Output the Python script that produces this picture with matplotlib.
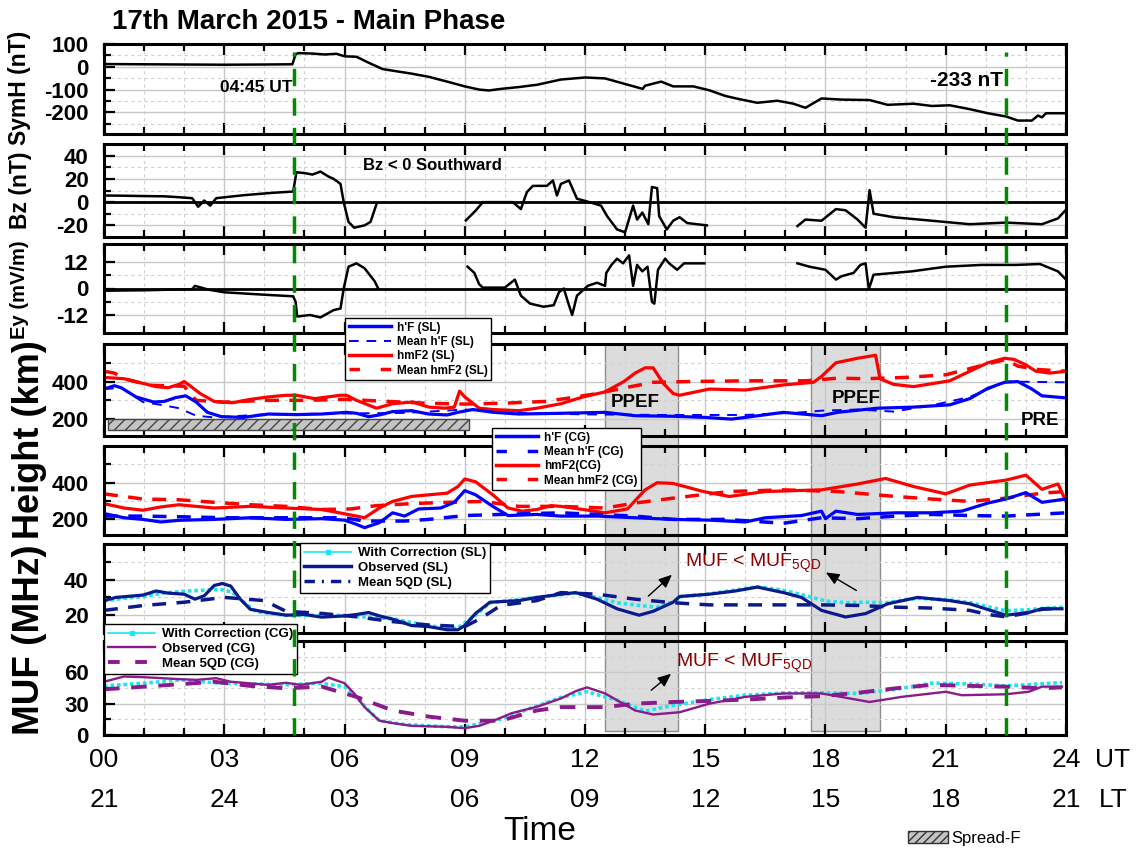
import numpy as np
import matplotlib
matplotlib.use("Agg")
import matplotlib.pyplot as plt
import matplotlib.transforms as mtransforms
from matplotlib.patches import Rectangle, Patch
from matplotlib.lines import Line2D
from matplotlib.ticker import MultipleLocator, FixedLocator

plt.rcParams['font.family'] = ['Liberation Sans', 'DejaVu Sans']
plt.rcParams['font.weight'] = 'bold'
plt.rcParams['hatch.linewidth'] = 1.0
plt.rcParams['axes.unicode_minus'] = False
nan = np.nan
COND = ['Liberation Sans Narrow', 'Liberation Sans', 'DejaVu Sans']

# ---------------- data (UT hours) ----------------
t_symh = [0, 1, 2, 3, 4, 4.7, 4.78, 4.85, 5.2, 5.5, 5.8, 6.0, 6.3, 6.6, 6.95, 7.2, 7.67, 8.1, 8.56, 9.0,
          9.36, 9.6, 9.9, 10.35, 10.8, 11.4, 12.0, 12.5, 13.07, 13.44, 13.5, 13.9, 14.2, 14.7, 15.1, 15.5,
          15.85, 16.3, 16.8, 17.2, 17.5, 17.9, 18.4, 19.1, 19.55, 20.2, 20.65, 21.1, 21.6, 22.05, 22.5,
          22.8, 23.15, 23.3, 23.4, 23.5, 24]
symh = [12, 11, 10, 9, 10, 11, 55, 60, 58, 54, 57, 46, 44, 18, -10, -17, -30, -44, -65, -86,
        -100, -104, -97, -89, -79, -56, -47, -51, -79, -97, -83, -65, -86, -86, -103, -128,
        -142, -158, -149, -162, -180, -139, -144, -146, -167, -162, -172, -169, -186, -204, -218,
        -236, -236, -214, -222, -204, -204]

t_bz = [0, 0.5, 1.0, 1.5, 1.75, 2.2, 2.35, 2.5, 2.65, 2.8, 3.5, 4.2, 4.72, 4.8, 5.0, 5.2, 5.4, 5.6, 5.73,
        5.9, 5.98, 6.1, 6.24, 6.5, 6.65, 6.8, 6.85, 9.03, 9.28, 9.45, 9.8, 10.2, 10.4, 10.55, 10.7, 11.05,
        11.2, 11.3, 11.4, 11.6, 11.8, 12.05, 12.4, 12.55, 12.8, 13.0, 13.2, 13.3, 13.43, 13.58, 13.67,
        13.8, 13.85, 14.04, 14.2, 14.36, 14.55, 15.04, 15.1, 17.3, 17.5, 17.9, 18.26, 18.5, 18.8, 19.0,
        19.1, 19.2, 19.7, 20.65, 21.6, 22.5, 23.4, 23.8, 24]
bz = [5.7, 5.5, 5.2, 5, 4.5, 3.4, -4, 1.4, -3, 3.4, 6, 8, 9.1, 25.7, 25, 23.7, 26.3, 22, 20,
      15.7, 0, -17, -22, -20, -17, -1.4, nan, -15.7, -7, 0, 0, 0, -6, 8.6, 14, 14,
      18.6, 5.7, 15.7, 18.6, 2.9, 0.6, -3, -12, -23.5, -26, -3, -15, -9, -19, 13,
      12, -12, -23.5, -16, -13, -18, -20, nan, -20.6, -15, -16, -6, -7, -15, -22,
      10.3, -10, -13, -16, -19, -17.6, -19, -14, -6.5]

t_ey = [0, 1, 2.2, 2.27, 2.6, 3.0, 4.0, 4.72, 4.78, 4.82, 5.14, 5.4, 5.73, 5.9, 5.98, 6.1, 6.3, 6.5, 6.75,
        6.83, 6.9, 9.07, 9.24, 9.36, 9.45, 10.0, 10.25, 10.4, 10.63, 10.97, 11.22, 11.35, 11.47, 11.6,
        11.68, 11.8, 12.07, 12.3, 12.5, 12.53, 12.66, 12.8, 12.95, 13.1, 13.2, 13.3, 13.43, 13.56, 13.67,
        13.73, 13.82, 14.0, 14.1, 14.3, 14.47, 14.98, 15.05, 17.3, 17.6, 18.0, 18.26, 18.4, 18.7, 18.87,
        19.0, 19.08, 19.2, 20.15, 21.0, 21.9, 22.75, 23.35, 23.8, 24]
ey = [-1, -0.8, -0.3, 1.2, -0.5, -1.7, -2.8, -3.5, -6, -12.6, -11.9, -13, -9.7, -9, 0, 9.8, 11.3, 9.1, 3.3,
      0.4, nan, 9.8, 7, 1.9, 0.4, 0.4, 4, -3.2, -6.8, -8.2, -7.5, -1.7, 0, -7.5,
      -11.9, -3.2, 1.2, 2.6, 1.2, 7, 10.6, 13.4, 11.3, 14.9, 1.2, 10.6, 7.7, 9.8, -6,
      -6.8, 8.4, 13.4, 11.3, 8.4, 11.3, 11.3, nan, 11.3, 9.8, 8.4, 4, 5.5, 7, 10.6,
      11.3, -0.3, 6.2, 7.7, 9.8, 10.6, 10.6, 11, 7.7, 4]

# Sao Luis heights (km)
t_hmf2_sl = [0, 0.5, 1.3, 1.6, 1.87, 2.0, 2.1, 2.4, 2.75, 3.2, 3.65, 4.1, 4.54, 4.8, 5.25, 5.9, 6.05, 6.3,
             6.8, 7.2, 7.7, 8.1, 8.5, 8.74, 8.87, 9.0, 9.36, 9.7, 10.35, 10.8, 11.4, 11.95, 12.5, 12.97,
             13.25, 13.5, 13.7, 13.95, 14.2, 14.36, 15.1, 16.0, 16.95, 17.7, 17.9, 18.26, 18.8, 19.25,
             19.36, 19.7, 20.2, 21.1, 21.6, 22.05, 22.47, 22.7, 22.98, 23.25, 23.6, 24]
hmf2_sl = [422, 415, 373, 367, 385, 400, 385, 336, 294, 287, 305, 318, 327, 327, 309, 327, 327, 300,
           258, 282, 291, 264, 258, 264, 349, 318, 258, 251, 245, 258, 282, 318, 345, 400,
           445, 473, 473, 391, 336, 327, 360, 355, 382, 396, 427, 500, 524, 540,
           415, 385, 373, 404, 455, 500, 524, 518, 491, 455, 445, 455]
t_mhmf2_sl = [0, 0.26, 0.5, 1.15, 2.0, 2.3, 3.0, 4.0, 5.0, 6.0, 7.0, 8.0, 9.0, 10.0, 11.0, 11.5, 12.3, 13.0,
              13.7, 14.6, 16.0, 17.5, 18.3, 19.0, 20.0, 21.0, 22.0, 22.5, 22.8, 23.3, 24]
mhmf2_sl = [455, 445, 415, 380, 375, 300, 290, 300, 300, 305, 295, 285, 280, 285, 294, 309, 336, 367,
            396, 400, 404, 404, 418, 415, 422, 436, 491, 518, 482, 464, 455]
t_hf_sl = [0, 0.26, 0.43, 0.8, 1.24, 1.5, 1.78, 2.04, 2.3, 2.58, 2.93, 3.47, 4.1, 4.8, 5.43, 6.05, 6.3, 6.6,
           6.87, 7.2, 7.67, 8.1, 8.56, 8.83, 9.2, 9.72, 10.35, 11.4, 12.5, 13.25, 14.2, 15.0, 15.65, 16.0,
           16.95, 17.9, 18.3, 19.3, 20.2, 21.1, 21.6, 22.05, 22.47, 22.8, 23.15, 23.4, 24]
hf_sl = [360, 378, 367, 318, 291, 294, 314, 324, 291, 236, 213, 209, 227, 224, 227, 236, 231, 213,
         222, 240, 245, 227, 222, 236, 251, 236, 227, 231, 236, 218, 215, 209, 200, 209,
         236, 218, 236, 258, 264, 276, 309, 364, 396, 400, 360, 324, 313]
t_mhf_sl = [0, 0.43, 0.97, 1.5, 1.87, 2.3, 2.75, 4, 6, 7.5, 9, 10, 12, 14, 16, 17.4, 17.9, 18.8, 19.7,
            20.65, 21.6, 22.5, 24]
mhf_sl = [360, 367, 291, 273, 258, 218, 209, 225, 230, 233, 251, 235, 225, 222, 222, 236, 245, 251, 240,
          273, 318, 400, 396]

# Cachoeira Paulista heights (km)
t_hmf2_cg = [0, 0.5, 0.97, 1.42, 1.87, 2.3, 2.75, 3.65, 4.54, 5.43, 6.3, 6.5, 6.87, 7.2, 7.67, 8.1, 8.56,
             8.83, 9.0, 9.27, 9.7, 10.08, 10.43, 10.8, 11.15, 11.4, 11.95, 12.5, 13.06, 13.5, 13.8, 14.2,
             14.95, 15.6, 16.5, 17.9, 18.8, 19.5, 20.2, 21.0, 21.6, 22.5, 23.0, 23.4, 23.8, 24]
hmf2_cg = [286, 262, 250, 268, 280, 271, 262, 271, 262, 254, 218, 209, 262, 298, 325, 334, 343,
           379, 420, 405, 334, 262, 245, 254, 275, 271, 254, 236, 257, 361, 400, 396,
           352, 325, 352, 361, 393, 423, 379, 339, 387, 414, 441, 364, 393, 298]
t_mhmf2_cg = [0, 0.5, 0.97, 1.87, 2.75, 3.65, 4.54, 5.43, 6.15, 6.8, 7.67, 8.56, 9.45, 10.35, 11.4, 12.5,
              13.25, 14.2, 15.6, 16.95, 18.3, 19.75, 20.65, 21.6, 22.5, 23.4, 24]
mhmf2_cg = [339, 325, 311, 307, 293, 280, 271, 254, 257, 275, 286, 293, 298, 271, 271, 262,
            289, 316, 352, 361, 352, 325, 311, 298, 316, 343, 352]
t_hf_cg = [0, 0.5, 0.97, 1.42, 1.87, 2.75, 3.65, 4.54, 5.43, 6.0, 6.3, 6.5, 6.87, 7.2, 7.5, 7.85, 8.4, 8.74,
           9.0, 9.27, 9.7, 10.08, 10.8, 11.4, 12.3, 13.25, 14.2, 15.1, 16.0, 16.5, 17.4, 17.9, 18.0, 18.26,
           18.8, 19.75, 20.65, 21.4, 22.05, 22.5, 23.0, 23.4, 24]
hf_cg = [232, 209, 200, 186, 195, 200, 209, 200, 204, 196, 173, 155, 182, 236, 218, 257, 262, 293,
         357, 334, 271, 221, 227, 218, 218, 209, 200, 196, 186, 209, 221, 245, 204, 245,
         227, 236, 236, 245, 289, 311, 346, 293, 311]
t_mhf_cg = [0, 1, 2, 3, 4, 5, 6, 6.5, 7.5, 8.1, 9.0, 9.9, 11.4, 12.3, 13.25, 14.2, 15.5, 16.95, 17.9,
            18.8, 19.75, 20.65, 21.6, 22.5, 24]
mhf_cg = [218, 218, 214, 209, 209, 209, 209, 191, 191, 200, 221, 227, 236, 227, 218, 200, 200, 179, 209,
          204, 218, 227, 221, 218, 236]

# MUF Sao Luis (MHz)
t_muf_sl = [0, 0.3, 0.97, 1.3, 1.6, 2.0, 2.27, 2.5, 2.75, 2.95, 3.16, 3.4, 3.65, 4.1, 4.54, 5.0, 5.43, 6.0,
            6.3, 6.6, 6.87, 7.2, 7.67, 8.1, 8.56, 8.83, 9.0, 9.27, 9.63, 10.35, 10.8, 11.4, 11.77, 12.3,
            12.8, 13.35, 13.7, 14.2, 14.36, 15.1, 15.75, 16.3, 16.95, 17.4, 17.9, 18.5, 19.0, 19.55, 20.3,
            21.1, 21.6, 22.5, 23.07, 23.4, 23.9]
muf_sl = [28.2, 30, 31.3, 33.6, 32.4, 31.8, 29, 30.9, 36.7, 37.8, 36.4, 29, 23.3, 21.5, 20, 20.4, 18.9, 19.6,
          20.4, 21.5, 19.6, 17.8, 14.2, 13.6, 11.8, 11.8, 14.2, 21, 27.3, 28.2, 30, 31.8, 32.7, 29,
          23.6, 20, 22.2, 27.3, 30.5, 31.8, 33.6, 35.8, 32.7, 30, 22.7, 19, 20.9, 26.4, 30,
          28.2, 26.4, 20, 21.5, 23.6, 23.6]
t_mufc_sl = [0, 0.5, 1.0, 1.5, 2.0, 2.5, 2.9, 3.2, 3.5, 3.8, 4.5, 6, 7.2, 8.1, 8.8, 9.27, 9.63, 10.8, 11.8,
             12.3, 12.8, 13.35, 13.8, 14.2, 14.4, 15.1, 16.3, 16.95, 17.5, 18.0, 18.5, 19.0, 19.5, 20.3,
             21.1, 21.6, 22.5, 23.0, 23.5, 24]
mufc_sl = [28, 29.5, 30.5, 32.5, 33.5, 34, 34.5, 33, 27, 22, 20, 19.8, 18, 14, 12.5, 20, 27, 30, 32.5,
           30, 27, 25.5, 24.5, 27.5, 30.5, 32, 36, 34, 31, 28, 27, 27.3, 27, 29.5,
           28.5, 27, 22.5, 23, 24, 24.5]
t_mufm_sl = [0, 1, 2, 3, 4, 4.54, 5.43, 6.3, 7.2, 8.1, 9.0, 9.4, 9.9, 10.8, 11.4, 12.3, 13.25, 14.2, 15.1,
             16.0, 17.0, 17.9, 18.8, 19.75, 20.65, 21.6, 22.05, 22.5, 22.95, 23.4, 23.9]
mufm_sl = [22.7, 25.5, 27.3, 30, 28.2, 22.2, 21, 19.1, 16.4, 14.5, 13.6, 18.2, 25.5, 28.2, 32.7, 31.8, 29,
           27, 25.8, 25.8, 25.8, 25.8, 25.5, 24.5, 24, 22.7, 20.4, 19.1, 20.9, 23.3, 24]

# MUF Cachoeira Paulista (MHz)
t_muf_cg = [0, 0.5, 0.97, 1.87, 2.3, 2.8, 3.16, 4.1, 4.54, 4.9, 5.43, 5.6, 6.0, 6.24, 6.5, 6.87, 7.2, 7.67,
            8.56, 9.0, 9.36, 9.72, 10.17, 10.8, 11.4, 11.77, 12.05, 12.5, 13.25, 13.7, 14.36, 15.1, 16.0,
            16.95, 17.9, 19.1, 19.9, 21.0, 21.4, 22.5, 23.07, 23.4, 23.9]
muf_cg = [51, 56, 55.4, 53.5, 52.8, 54.4, 51, 48, 50, 48, 51, 55, 49.6, 39.8, 26.7, 13.7, 11.4, 8.8,
          7.8, 6.5, 8.8, 13.7, 20.9, 27, 35, 42, 45.6, 39.8, 23.5, 19.6, 21.8, 30, 36.5,
          39.8, 39.8, 31.6, 36.5, 41.4, 38.1, 39, 41.4, 46.3, 46.3]
t_mufc_cg = [0, 1, 1.9, 2.75, 4.5, 5.4, 6.0, 6.3, 6.6, 6.87, 7.5, 8.5, 9.0, 9.9, 11.4, 12.05, 12.8, 13.5,
             14.2, 15.1, 16.0, 17.0, 17.9, 18.8, 19.75, 20.65, 21.6, 22.5, 23.9]
mufc_cg = [47, 49.6, 52.8, 50, 48, 49.6, 46.3, 36.5, 23.5, 13.7, 10, 8, 7.8, 15.3, 36, 41.4, 33.3, 22.8,
           28.4, 33.9, 38.1, 40.4, 40.4, 39.8, 43.7, 49.6, 48.9, 47, 50.2]
t_mufm_cg = [0, 1, 2, 2.75, 3.65, 4.54, 5.43, 6.3, 7.2, 8.1, 9.0, 9.9, 10.8, 11.4, 12.5, 13.25, 14.2, 15.1,
             16.0, 17.0, 17.9, 18.8, 19.75, 20.65, 21.6, 22.5, 23.4, 23.9]
mufm_cg = [43.7, 46.3, 48.9, 51, 47, 44.7, 46.3, 36.5, 23.5, 17.6, 13.7, 13.7, 23.5, 26.7, 26.7, 30, 31.6,
           32.6, 33.9, 35.9, 37.2, 40.4, 44.7, 48, 47, 46.3, 44.7, 45.6]

# events
onset_lines = [4.75, 22.5]
ppef_spans = [(12.5, 14.33), (17.65, 19.35)]
spread_f = (0.1, 9.1, 140, 200)   # start, end (UT), bottom, top (km)

tick_hours = [0, 3, 6, 9, 12, 15, 18, 21, 24]
ut_labels = ['00', '03', '06', '09', '12', '15', '18', '21', '24']
lt_labels = ['21', '24', '03', '06', '09', '12', '15', '18', '21']

# ---------------- figure ----------------
W, H = 1141, 851
fig = plt.figure(figsize=(W / 100, H / 100), dpi=100)
left, right = 104, 1066
panels_px = [(44, 134), (144, 237), (244, 333), (344, 436), (446, 535), (544, 633), (641, 735)]
axs = [fig.add_axes([left / W, 1 - b / H, (right - left) / W, (b - t) / H]) for t, b in panels_px]
ax1, ax2, ax3, ax4, ax5, ax6, ax7 = axs


def style(ax, ylim, major, minor):
    ax.set_xlim(0, 24)
    ax.set_ylim(*ylim)
    ax.set_facecolor('none')
    ax.xaxis.set_major_locator(MultipleLocator(3))
    ax.xaxis.set_minor_locator(MultipleLocator(1))
    ax.yaxis.set_major_locator(FixedLocator(major))
    ax.yaxis.set_minor_locator(FixedLocator(minor))
    ax.grid(which='major', color='#c8c8c8', lw=1.0, ls='-')
    ax.grid(which='minor', color='#d2d2d2', lw=0.8, ls=(0, (3, 3)))
    ax.set_axisbelow(True)
    ax.tick_params(which='both', direction='in', top=True, right=False, width=1.6, labelsize=16,
                   labelbottom=False, pad=11)
    ax.tick_params(which='major', length=8)
    ax.tick_params(which='minor', length=5)
    for s in ax.spines.values():
        s.set_linewidth(2.2)


style(ax1, (-295, 100), [-200, -100, 0, 100], [-250, -150, -50, 50])
style(ax2, (-30, 50), [-20, 0, 20, 40], [-10, 10, 30])
style(ax3, (-20, 20), [-12, 0, 12], [-6, 6])
style(ax4, (110, 600), [200, 400], [300, 500])
style(ax5, (115, 600), [200, 400], [300, 500])
style(ax6, (10, 60), [20, 40], [10, 30, 50])
style(ax7, (0, 90), [0, 30, 60], [15, 45, 75])

# solar wind / geomagnetic
ax1.plot(t_symh, symh, color='black', lw=1.8)
ax2.axhline(0, color='black', lw=2)
ax2.plot(t_bz, bz, color='black', lw=1.8)
ax3.axhline(0, color='black', lw=2)
ax3.plot(t_ey, ey, color='black', lw=1.8)

# heights
sf0, sf1, sfb, sft = spread_f
ax4.add_patch(Rectangle((sf0, sfb), sf1 - sf0, sft - sfb, facecolor='#c4c4c4', edgecolor='#444444',
                        hatch='///', lw=1.0, zorder=1))
ax4.plot(t_mhmf2_sl, mhmf2_sl, color='red', lw=2.5, dashes=(4, 3))
ax4.plot(t_hmf2_sl, hmf2_sl, color='red', lw=2.3)
ax4.plot(t_mhf_sl, mhf_sl, color='blue', lw=1.4, dashes=(5, 4))
ax4.plot(t_hf_sl, hf_sl, color='blue', lw=2.3)

ax5.plot(t_mhmf2_cg, mhmf2_cg, color='red', lw=2.5, dashes=(4, 3))
ax5.plot(t_hmf2_cg, hmf2_cg, color='red', lw=2.3)
ax5.plot(t_mhf_cg, mhf_cg, color='blue', lw=2.5, dashes=(4, 3))
ax5.plot(t_hf_cg, hf_cg, color='blue', lw=2.3)

# MUF
ax6.plot(t_mufc_sl, mufc_sl, color='#19e6f0', lw=2.6, ls=(0, (1, 0.8)))
ax6.plot(t_mufm_sl, mufm_sl, color='#0a1a8c', lw=2.5, dashes=(4, 3))
ax6.plot(t_muf_sl, muf_sl, color='#0a1a8c', lw=2.3)

ax7.plot(t_mufc_cg, mufc_cg, color='#19e6f0', lw=2.6, ls=(0, (1, 0.8)))
ax7.plot(t_mufm_cg, mufm_cg, color='#8b1a8b', lw=2.8, dashes=(4, 3))
ax7.plot(t_muf_cg, muf_cg, color='#8b1a8b', lw=1.7)

# shaded PPEF windows and onset lines, spanning several panels
trans = mtransforms.blended_transform_factory(ax4.transData, fig.transFigure)
y_top = ax4.get_position().y1
y_bot = ax7.get_position().y0 + 4 / H
for a, b in ppef_spans:
    fig.add_artist(Rectangle((a, y_bot), b - a, y_top - y_bot, transform=trans, facecolor='#dcdcdc',
                             edgecolor='#8c8c8c', lw=1.0, zorder=-1))
for t in onset_lines:
    fig.add_artist(Line2D([t, t], [ax7.get_position().y0, ax1.get_position().y1 - 8 / H], transform=trans,
                          color='#008a00', lw=2.5, dashes=(5, 3.5), zorder=5))

# annotations
ax1.text(4.7, -92, '04:45 UT', ha='right', va='center', fontsize=12.5)
ax1.text(22.42, -58, '-233 nT', ha='right', va='center', fontsize=15)
ax2.text(8.2, 31.5, 'Bz < 0 Southward', ha='center', va='center', fontsize=12)
ax4.text(13.26, 291, 'PPEF', ha='center', va='center', fontsize=13.5)
ax4.text(18.76, 312, 'PPEF', ha='center', va='center', fontsize=13.5)
ax4.text(23.34, 190, 'PRE', ha='center', va='center', fontsize=13.5)

muf_txt = 'MUF < MUF$_{\\mathregular{5QD}}$'
arrow = dict(arrowstyle='-|>,head_width=0.35,head_length=0.8', color='black', lw=1.0)
ax6.text(16.2, 49, muf_txt, ha='center', va='center', fontsize=14, fontweight='normal', color='#8b0000',
         zorder=6)
ax6.annotate('', xy=(14.22, 43.8), xytext=(13.53, 29.7), arrowprops=arrow)
ax6.annotate('', xy=(17.95, 44.8), xytext=(18.83, 33.1), arrowprops=arrow)
ax7.text(15.96, 69, muf_txt, ha='center', va='center', fontsize=14, fontweight='normal', color='#8b0000',
         zorder=6)
ax7.annotate('', xy=(14.2, 60.3), xytext=(13.6, 41.2), arrowprops=arrow)


# legends
def leg(ax, handles, labels, x, y, fs):
    lg = ax.legend(handles, labels, loc='upper left', bbox_to_anchor=(x / W, 1 - y / H),
                   bbox_transform=fig.transFigure, fontsize=fs, frameon=True, fancybox=False,
                   edgecolor='black', framealpha=1, handlelength=3.6, borderpad=0.3, labelspacing=0.2,
                   handletextpad=0.5, borderaxespad=0)
    lg.get_frame().set_linewidth(1.0)
    lg.set_zorder(10)
    return lg


leg(ax4, [Line2D([], [], color='blue', lw=2.5), Line2D([], [], color='blue', lw=1.4, dashes=(5, 4)),
          Line2D([], [], color='red', lw=2.5), Line2D([], [], color='red', lw=2.5, dashes=(3, 6))],
    ["h'F (SL)", "Mean h'F (SL)", 'hmF2 (SL)', 'Mean hmF2 (SL)'], 345, 318, 8.5)
leg(ax5, [Line2D([], [], color='blue', lw=2.5), Line2D([], [], color='blue', lw=2.5, dashes=(3, 6)),
          Line2D([], [], color='red', lw=2.5), Line2D([], [], color='red', lw=2.5, dashes=(3, 6))],
    ["h'F (CG)", "Mean h'F (CG)", 'hmF2(CG)', 'Mean hmF2 (CG)'], 492, 428, 8.5)
leg(ax6, [Line2D([], [], color='#19e6f0', lw=1.2, marker='s', markersize=2.5),
          Line2D([], [], color='#0a1a8c', lw=2.5),
          Line2D([], [], color='#0a1a8c', lw=2.5, dashes=(3, 2, 0.6, 2))],
    ['With Correction (SL)', 'Observed (SL)', 'Mean 5QD (SL)'], 300, 543, 9.5)
leg(ax7, [Line2D([], [], color='#19e6f0', lw=1.2, marker='s', markersize=2.5),
          Line2D([], [], color='#8b1a8b', lw=1.7),
          Line2D([], [], color='#8b1a8b', lw=2.8, dashes=(3, 4))],
    ['With Correction (CG)', 'Observed (CG)', 'Mean 5QD (CG)'], 104, 624, 9.5)

fig.legend(handles=[Patch(facecolor='#c4c4c4', edgecolor='#333333', hatch='////', label='Spread-F')],
           loc='center left', bbox_to_anchor=(893 / W, 1 - 838 / H), frameon=False,
           prop={'family': COND, 'size': 12, 'weight': 'normal'}, handlelength=2.4, handleheight=0.7,
           handletextpad=0.2)

# time axis labels
tb = mtransforms.blended_transform_factory(ax7.transData, fig.transFigure)
for h, u, l in zip(tick_hours, ut_labels, lt_labels):
    fig.text(h, 1 - 760 / H, u, transform=tb, ha='center', va='center', fontsize=19,
             fontweight='normal', family=COND)
    fig.text(h, 1 - 800 / H, l, transform=tb, ha='center', va='center', fontsize=19,
             fontweight='normal', family=COND)
fig.text(1113 / W, 1 - 760 / H, 'UT', ha='center', va='center', fontsize=19, fontweight='normal', family=COND)
fig.text(1113 / W, 1 - 800 / H, 'LT', ha='center', va='center', fontsize=19, fontweight='normal', family=COND)
fig.text(540 / W, 1 - 832 / H, 'Time', ha='center', va='center', fontsize=24, fontweight='normal', family=COND)

# titles and y labels
fig.text(112 / W, 1 - 22 / H, '17th March 2015 - Main Phase', ha='left', va='center', fontsize=20)
fig.text(20 / W, 1 - 88 / H, 'SymH (nT)', rotation=90, ha='center', va='center', fontsize=16.5)
fig.text(20 / W, 1 - 190 / H, 'Bz (nT)', rotation=90, ha='center', va='center', fontsize=16.5)
fig.text(20 / W, 1 - 290 / H, 'Ey (mV/m)', rotation=90, ha='center', va='center', fontsize=14.5)
fig.text(30 / W, 1 - 440 / H, 'Height (km)', rotation=90, ha='center', va='center', fontsize=26)
fig.text(30 / W, 1 - 640 / H, 'MUF (MHz)', rotation=90, ha='center', va='center', fontsize=26.5)

fig.savefig('out.png', dpi=100)
